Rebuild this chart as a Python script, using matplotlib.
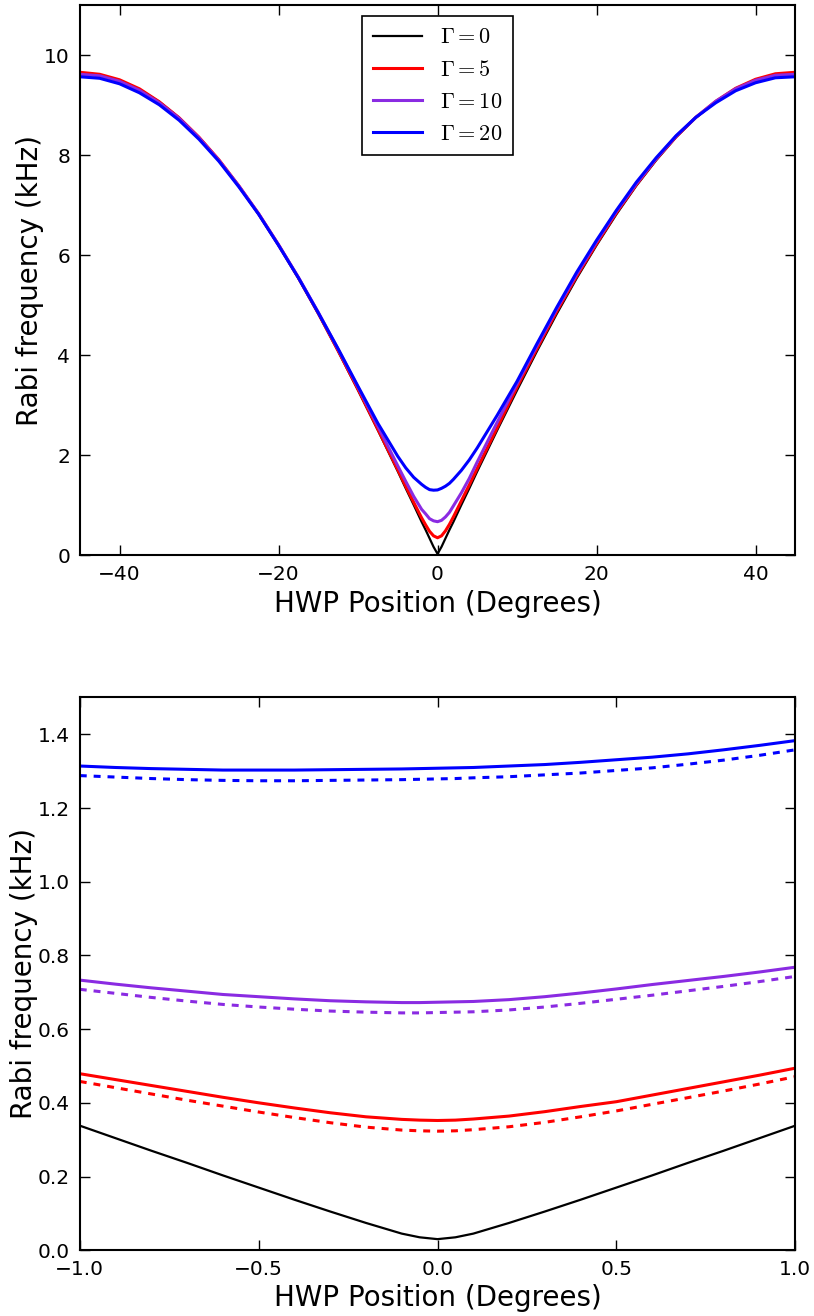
import matplotlib
matplotlib.use("Agg")
import matplotlib.pyplot as plt

# values (kHz)
hwp_wide = [-45, -42.5, -40, -37.5, -35, -32.5, -30, -27.5, -25, -22.5, -20, -17.5, -15, -12.5,
            -10, -7.5, -5, -4, -3, -2, -1.5, -1, -0.5, 0, 0.5, 1, 1.5, 2, 3, 4, 5, 7.5,
            10, 12.5, 15, 17.5, 20, 22.5, 25, 27.5, 30, 32.5, 35, 37.5, 40, 42.5, 45]
rabi_g0 = [9.65, 9.61, 9.50, 9.32, 9.07, 8.75, 8.36, 7.90, 7.39, 6.82, 6.20, 5.54, 4.83, 4.08,
           3.30, 2.50, 1.68, 1.34, 1.01, 0.67, 0.51, 0.34, 0.17, 0.03, 0.17, 0.34, 0.51, 0.67, 1.01, 1.34, 1.68, 2.50,
           3.30, 4.08, 4.83, 5.54, 6.20, 6.82, 7.39, 7.90, 8.36, 8.75, 9.07, 9.32, 9.50, 9.61, 9.65]
rabi_g5 = [9.66, 9.62, 9.51, 9.33, 9.07, 8.75, 8.36, 7.91, 7.39, 6.83, 6.21, 5.55, 4.84, 4.09,
           3.32, 2.52, 1.71, 1.38, 1.06, 0.75, 0.61, 0.48, 0.39, 0.352, 0.39, 0.49, 0.62, 0.77, 1.09, 1.41, 1.74, 2.55,
           3.36, 4.13, 4.88, 5.58, 6.23, 6.85, 7.41, 7.92, 8.37, 8.76, 9.08, 9.34, 9.52, 9.63, 9.66]
rabi_g10 = [9.62, 9.59, 9.48, 9.30, 9.05, 8.74, 8.35, 7.90, 7.39, 6.83, 6.21, 5.56, 4.86, 4.12,
            3.36, 2.58, 1.79, 1.48, 1.18, 0.92, 0.83, 0.733, 0.69, 0.673, 0.70, 0.768, 0.86, 0.99, 1.25, 1.54, 1.87, 2.66,
            3.43, 4.19, 4.93, 5.62, 6.27, 6.88, 7.43, 7.93, 8.38, 8.76, 9.08, 9.33, 9.50, 9.60, 9.62]
rabi_g20 = [9.57, 9.54, 9.43, 9.25, 9.01, 8.70, 8.32, 7.88, 7.37, 6.82, 6.20, 5.55, 4.85, 4.13,
            3.38, 2.64, 1.98, 1.75, 1.56, 1.42, 1.36, 1.314, 1.303, 1.308, 1.34, 1.383, 1.44, 1.52, 1.70, 1.91, 2.15, 2.80,
            3.48, 4.23, 4.96, 5.66, 6.30, 6.90, 7.46, 7.95, 8.39, 8.76, 9.05, 9.29, 9.45, 9.55, 9.57]

hwp_zoom = [-1, -0.9, -0.8, -0.7, -0.6, -0.5, -0.4, -0.3, -0.2, -0.1, -0.05, 0,
            0.05, 0.1, 0.2, 0.3, 0.4, 0.5, 0.6, 0.7, 0.8, 0.9, 1]
zoom_g0 = [0.338, 0.304, 0.270, 0.237, 0.203, 0.170, 0.137, 0.105, 0.074, 0.045, 0.035, 0.030,
           0.035, 0.045, 0.074, 0.105, 0.137, 0.170, 0.203, 0.237, 0.270, 0.304, 0.338]
zoom_g5 = [0.479, 0.463, 0.447, 0.431, 0.415, 0.400, 0.386, 0.373, 0.362, 0.355, 0.353, 0.352,
           0.353, 0.356, 0.364, 0.376, 0.390, 0.403, 0.421, 0.439, 0.457, 0.475, 0.494]
zoom_g5_dash = [0.458, 0.441, 0.424, 0.407, 0.391, 0.375, 0.360, 0.346, 0.334, 0.326, 0.324, 0.323,
                0.324, 0.327, 0.335, 0.347, 0.362, 0.378, 0.396, 0.414, 0.432, 0.451, 0.471]
zoom_g10 = [0.733, 0.722, 0.712, 0.703, 0.694, 0.688, 0.682, 0.677, 0.674, 0.672, 0.672, 0.673,
            0.674, 0.675, 0.680, 0.688, 0.698, 0.709, 0.721, 0.732, 0.743, 0.755, 0.768]
zoom_g10_dash = [0.708, 0.697, 0.686, 0.676, 0.667, 0.660, 0.654, 0.649, 0.646, 0.644, 0.644, 0.645,
                 0.646, 0.647, 0.652, 0.660, 0.670, 0.681, 0.692, 0.704, 0.716, 0.729, 0.743]
zoom_g20 = [1.314, 1.310, 1.307, 1.305, 1.303, 1.303, 1.303, 1.304, 1.305, 1.306, 1.307, 1.308,
            1.309, 1.310, 1.314, 1.318, 1.324, 1.331, 1.338, 1.347, 1.358, 1.370, 1.383]
zoom_g20_dash = [1.288, 1.284, 1.280, 1.277, 1.275, 1.274, 1.274, 1.275, 1.276, 1.277, 1.278, 1.279,
                 1.280, 1.282, 1.285, 1.290, 1.295, 1.302, 1.309, 1.319, 1.330, 1.343, 1.358]

plt.rcParams["mathtext.fontset"] = "cm"
plt.rcParams["lines.scale_dashes"] = False
plt.rcParams["xtick.direction"] = "in"
plt.rcParams["ytick.direction"] = "in"

fig = plt.figure(figsize=(8.14, 13.16), dpi=100)
ax1 = fig.add_axes([0.098, 0.578, 0.879, 0.418])
ax2 = fig.add_axes([0.098, 0.050, 0.879, 0.420])

ax1.plot(hwp_wide, rabi_g0, color="black", lw=1.6, label=r"$\Gamma=0$")
ax1.plot(hwp_wide, rabi_g5, color="red", lw=2.2, label=r"$\Gamma=5$")
ax1.plot(hwp_wide, rabi_g10, color="blueviolet", lw=2.2, label=r"$\Gamma=10$")
ax1.plot(hwp_wide, rabi_g20, color="blue", lw=2.2, label=r"$\Gamma=20$")
ax1.set_xlim(-45, 45)
ax1.set_ylim(0, 11)
ax1.set_xticks([-40, -20, 0, 20, 40])
ax1.set_yticks([0, 2, 4, 6, 8, 10])
leg = ax1.legend(loc="upper center", fontsize=16, handlelength=2.2, labelspacing=0.55,
                 fancybox=False, framealpha=1, edgecolor="black", borderpad=0.5)
leg.get_frame().set_linewidth(1.2)

dash = (0, (5, 5))
ax2.plot(hwp_zoom, zoom_g0, color="black", lw=1.6)
ax2.plot(hwp_zoom, zoom_g5, color="red", lw=2.2)
ax2.plot(hwp_zoom, zoom_g5_dash, color="red", lw=2.2, ls=dash)
ax2.plot(hwp_zoom, zoom_g10, color="blueviolet", lw=2.2)
ax2.plot(hwp_zoom, zoom_g10_dash, color="blueviolet", lw=2.2, ls=dash)
ax2.plot(hwp_zoom, zoom_g20, color="blue", lw=2.2)
ax2.plot(hwp_zoom, zoom_g20_dash, color="blue", lw=2.2, ls=dash)
ax2.set_xlim(-1, 1)
ax2.set_ylim(0, 1.5)
ax2.set_xticks([-1.0, -0.5, 0.0, 0.5, 1.0])
ax2.set_yticks([0.0, 0.2, 0.4, 0.6, 0.8, 1.0, 1.2, 1.4])

for ax in (ax1, ax2):
    ax.set_xlabel("HWP Position (Degrees)", fontsize=20, labelpad=4)
    ax.set_ylabel("Rabi frequency (kHz)", fontsize=20, labelpad=0)
    ax.tick_params(which="major", top=True, right=True, length=7, width=1,
                   labelsize=14.5, pad=7)
    for sp in ax.spines.values():
        sp.set_linewidth(1.5)

fig.savefig("out.png", dpi=100, facecolor="white")
